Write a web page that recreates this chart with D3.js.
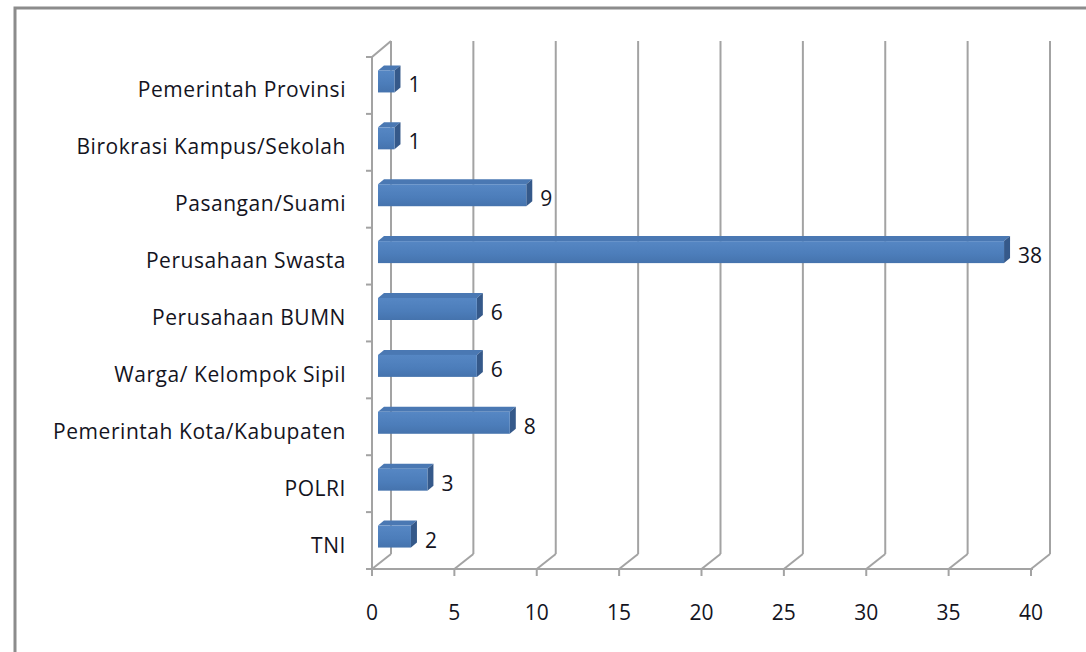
<!DOCTYPE html>
<html>
<head>
<meta charset="utf-8">
<script src="https://cdn.jsdelivr.net/npm/d3@7"></script>
<style>
  body { margin: 0; background: #fff; }
  svg text { font-family: "Open Sans", Lato, sans-serif; fill: #14141e; }
</style>
</head>
<body>
<svg id="vis" width="1086" height="652"></svg>
<script>
// categories from top to bottom
const categories = [
  "Pemerintah Provinsi",
  "Birokrasi Kampus/Sekolah",
  "Pasangan/Suami",
  "Perusahaan Swasta",
  "Perusahaan BUMN",
  "Warga/ Kelompok Sipil",
  "Pemerintah Kota/Kabupaten",
  "POLRI",
  "TNI"
];
const values = [1, 1, 9, 38, 6, 6, 8, 3, 2];
const tickValues = [0, 5, 10, 15, 20, 25, 30, 35, 40];

function drawChart() {
  const svg = d3.select("svg#vis");

  // plot frame (front plane)
  const pLeft = 372, pRight = 1031, pTop = 57, pBottom = 569;
  // depth of the 3d floor / wall
  const depth = { dx: 19, dy: -15 };

  const x = d3.scaleLinear().domain([0, 40]).range([pLeft, pRight]);
  const y = d3.scaleBand().domain(categories).range([pTop, pBottom]);

  const grid = "#a3a3a3";

  // outer chart border
  svg.append("rect")
    .attr("x", 15).attr("y", 8)
    .attr("width", 1200).attr("height", 800)
    .attr("fill", "none")
    .attr("stroke", "#8c8c8c")
    .attr("stroke-width", 3);

  const g = {
    grid: svg.append("g").attr("id", "grid"),
    bars: svg.append("g").attr("id", "bars"),
    labels: svg.append("g").attr("id", "labels")
  };

  // back vertical gridlines + floor diagonals
  tickValues.forEach(function(t) {
    const fx = x(t);
    const bx = fx + depth.dx;
    g.grid.append("line")
      .attr("x1", bx).attr("x2", bx)
      .attr("y1", pTop + depth.dy - 1).attr("y2", pBottom + depth.dy)
      .attr("stroke", grid).attr("stroke-width", 2);
    g.grid.append("line")
      .attr("x1", fx).attr("y1", pBottom)
      .attr("x2", bx).attr("y2", pBottom + depth.dy)
      .attr("stroke", grid).attr("stroke-width", 2);
    // tick mark under the front axis
    g.grid.append("line")
      .attr("x1", fx).attr("x2", fx)
      .attr("y1", pBottom).attr("y2", pBottom + 7)
      .attr("stroke", grid).attr("stroke-width", 2);
  });

  // left wall: front edge + top diagonal
  g.grid.append("line")
    .attr("x1", pLeft).attr("x2", pLeft)
    .attr("y1", pTop).attr("y2", pBottom)
    .attr("stroke", grid).attr("stroke-width", 2);
  g.grid.append("line")
    .attr("x1", pLeft).attr("y1", pTop)
    .attr("x2", pLeft + depth.dx).attr("y2", pTop + depth.dy - 1)
    .attr("stroke", grid).attr("stroke-width", 2);

  // front floor edge
  g.grid.append("line")
    .attr("x1", pLeft - 6).attr("x2", pRight + 2)
    .attr("y1", pBottom).attr("y2", pBottom)
    .attr("stroke", grid).attr("stroke-width", 2);

  // category ticks on the left
  const bounds = categories.map(c => y(c)).concat([pBottom]);
  bounds.forEach(function(b) {
    g.grid.append("line")
      .attr("x1", pLeft - 6).attr("x2", pLeft)
      .attr("y1", b).attr("y2", b)
      .attr("stroke", grid).attr("stroke-width", 2);
  });

  // bar gradient for the front face
  const defs = svg.append("defs");
  const grad = defs.append("linearGradient")
    .attr("id", "barFront")
    .attr("x1", 0).attr("y1", 0).attr("x2", 0).attr("y2", 1);
  grad.append("stop").attr("offset", "0%").attr("stop-color", "#5687c4");
  grad.append("stop").attr("offset", "60%").attr("stop-color", "#4c7dba");
  grad.append("stop").attr("offset", "100%").attr("stop-color", "#4573ad");

  // bars sit a little behind the front plane
  const off = { dx: 6, dy: -4 };
  const bd = { dx: 6, dy: -5 };   // bar's own depth
  const barH = 22;

  const data = categories.map((c, i) => ({ cat: c, value: values[i] }));

  const bar = g.bars.selectAll("g.bar")
    .data(data)
    .enter()
    .append("g")
    .attr("class", "bar");

  function yc(d) { return y(d.cat) + y.bandwidth() / 2 + off.dy; }

  // top face
  bar.append("path")
    .attr("fill", "#4a78b3")
    .attr("d", function(d) {
      const x0 = x(0) + off.dx, x1 = x(d.value) + off.dx;
      const y0 = yc(d) - barH / 2;
      return "M" + x0 + "," + y0 +
        "L" + (x0 + bd.dx) + "," + (y0 + bd.dy) +
        "L" + (x1 + bd.dx) + "," + (y0 + bd.dy) +
        "L" + x1 + "," + y0 + "Z";
    });

  // side face
  bar.append("path")
    .attr("fill", "#35598a")
    .attr("d", function(d) {
      const x1 = x(d.value) + off.dx;
      const y0 = yc(d) - barH / 2;
      return "M" + x1 + "," + y0 +
        "L" + (x1 + bd.dx) + "," + (y0 + bd.dy) +
        "L" + (x1 + bd.dx) + "," + (y0 + bd.dy + barH) +
        "L" + x1 + "," + (y0 + barH) + "Z";
    });

  // front face
  bar.append("rect")
    .attr("x", x(0) + off.dx)
    .attr("y", d => yc(d) - barH / 2)
    .attr("width", d => x(d.value) - x(0))
    .attr("height", barH)
    .attr("fill", "url(#barFront)");

  // value labels
  bar.append("text")
    .attr("x", d => x(d.value) + 20)
    .attr("y", d => y(d.cat) + y.bandwidth() / 2 + 7)
    .attr("font-size", 21)
    .text(d => d.value);

  // category labels
  g.labels.selectAll("text.cat")
    .data(categories)
    .enter()
    .append("text")
    .attr("class", "cat")
    .attr("x", 346)
    .attr("y", d => y(d) + y.bandwidth() / 2 + 12)
    .attr("text-anchor", "end")
    .attr("font-size", 21)
    .attr("letter-spacing", 0.55)
    .text(d => d);

  // x tick labels
  g.labels.selectAll("text.tick")
    .data(tickValues)
    .enter()
    .append("text")
    .attr("class", "tick")
    .attr("x", d => x(d))
    .attr("y", 620)
    .attr("text-anchor", "middle")
    .attr("font-size", 21)
    .text(d => d);
}

drawChart();
</script>
</body>
</html>
